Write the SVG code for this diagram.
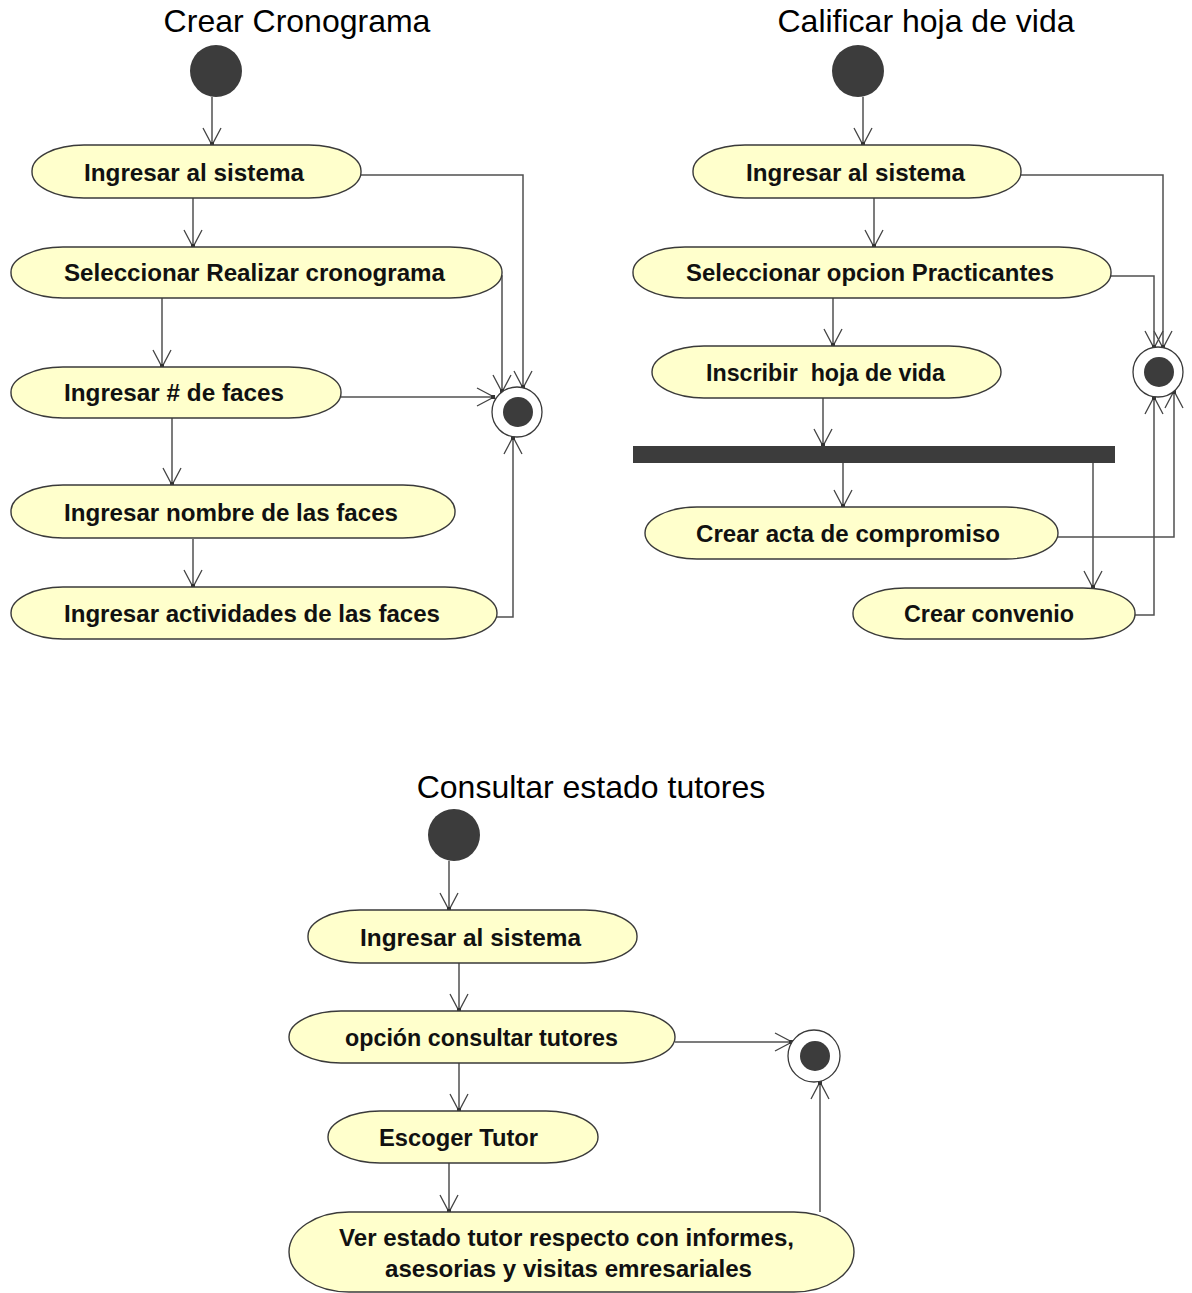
<svg xmlns="http://www.w3.org/2000/svg" width="1192" height="1293" viewBox="0 0 1192 1293">
  <style>
    .title { font-family: "Liberation Sans", Arial, sans-serif; font-size: 32px; fill: #000; text-anchor: middle; }
    .act { fill: #ffffcc; stroke: #3a3a3a; stroke-width: 1.4; }
    .lbl { font-family: "Liberation Sans", Arial, sans-serif; font-size: 24px; font-weight: bold; fill: #111; }
    .start { fill: #3c3c3c; }
    .endo { fill: #ffffff; stroke: #3a3a3a; stroke-width: 1.3; }
    .endi { fill: #3c3c3c; }
    .bar { fill: #3c3c3c; }
    .flow { fill: none; stroke: #505050; stroke-width: 1.5; marker-end: url(#arr); }
  </style>
  <defs>
    <marker id="arr" markerUnits="userSpaceOnUse" markerWidth="40" markerHeight="40" refX="0" refY="0" orient="auto" overflow="visible">
      <path d="M-17,-9 L0,0 L-17,9" fill="none" stroke="#444" stroke-width="1.3"/>
      <rect x="-3" y="-2" width="4" height="4" fill="#333"/>
    </marker>
  </defs>
  <rect width="1192" height="1293" fill="#ffffff"/>

  <!-- titles -->
  <text class="title" x="297" y="32">Crear Cronograma</text>
  <text class="title" x="926" y="32">Calificar hoja de vida</text>
  <text class="title" x="591" y="798">Consultar estado tutores</text>

  <!-- connectors -->
  <g id="connectors">
    <!-- Crear Cronograma -->
    <path class="flow" d="M212,97 V145"/>
    <path class="flow" d="M193,198 V247"/>
    <path class="flow" d="M162,298 V367"/>
    <path class="flow" d="M172,418 V485"/>
    <path class="flow" d="M193,539 V587"/>
    <path class="flow" d="M361,175 H523 V388"/>
    <path class="flow" d="M500,276 H502 V392"/>
    <path class="flow" d="M341,397 H494"/>
    <path class="flow" d="M497,617 H513 V437"/>
    <!-- Calificar hoja de vida -->
    <path class="flow" d="M863,97 V145"/>
    <path class="flow" d="M874,198 V247"/>
    <path class="flow" d="M833,298 V346"/>
    <path class="flow" d="M823,398 V446"/>
    <path class="flow" d="M843,463 V507"/>
    <path class="flow" d="M1093,463 V588"/>
    <path class="flow" d="M1021,175 H1163 V348"/>
    <path class="flow" d="M1111,276 H1154 V348"/>
    <path class="flow" d="M1058,537 H1174 V391"/>
    <path class="flow" d="M1135,615 H1154 V397"/>
    <!-- Consultar estado tutores -->
    <path class="flow" d="M449,861 V910"/>
    <path class="flow" d="M459,963 V1011"/>
    <path class="flow" d="M459,1063 V1111"/>
    <path class="flow" d="M449,1163 V1212"/>
    <path class="flow" d="M675,1042 H792"/>
    <path class="flow" d="M820,1212 V1082"/>
  </g>

  <!-- Crear Cronograma -->
  <g id="c-start"><circle class="start" cx="216" cy="71" r="26"/></g>
  <g id="c-ingresar">
    <rect class="act" x="32" y="145" width="329" height="53" rx="52" ry="26"/>
    <text class="lbl" x="84" y="181" textLength="220" lengthAdjust="spacingAndGlyphs">Ingresar al sistema</text>
  </g>
  <g id="c-seleccionar">
    <rect class="act" x="11" y="247" width="491" height="51" rx="52" ry="25"/>
    <text class="lbl" x="64" y="281" textLength="381" lengthAdjust="spacingAndGlyphs">Seleccionar Realizar cronograma</text>
  </g>
  <g id="c-numfaces">
    <rect class="act" x="11" y="367" width="330" height="51" rx="52" ry="25"/>
    <text class="lbl" x="64" y="401" textLength="220" lengthAdjust="spacingAndGlyphs">Ingresar # de faces</text>
  </g>
  <g id="c-nombre">
    <rect class="act" x="11" y="485" width="444" height="53" rx="52" ry="26"/>
    <text class="lbl" x="64" y="521" textLength="334" lengthAdjust="spacingAndGlyphs">Ingresar nombre de las faces</text>
  </g>
  <g id="c-actividades">
    <rect class="act" x="11" y="587" width="486" height="52" rx="52" ry="26"/>
    <text class="lbl" x="64" y="622" textLength="376" lengthAdjust="spacingAndGlyphs">Ingresar actividades de las faces</text>
  </g>
  <g id="c-end">
    <circle class="endo" cx="517" cy="412" r="25"/>
    <circle class="endi" cx="518" cy="412" r="15"/>
  </g>

  <!-- Calificar hoja de vida -->
  <g id="h-start"><circle class="start" cx="858" cy="71" r="26"/></g>
  <g id="h-ingresar">
    <rect class="act" x="693" y="145" width="328" height="53" rx="52" ry="26"/>
    <text class="lbl" x="746" y="181" textLength="219" lengthAdjust="spacingAndGlyphs">Ingresar al sistema</text>
  </g>
  <g id="h-seleccionar">
    <rect class="act" x="633" y="247" width="478" height="51" rx="52" ry="25"/>
    <text class="lbl" x="686" y="281" textLength="368" lengthAdjust="spacingAndGlyphs">Seleccionar opcion Practicantes</text>
  </g>
  <g id="h-inscribir">
    <rect class="act" x="652" y="346" width="349" height="52" rx="52" ry="26"/>
    <text class="lbl" x="706" y="381" textLength="239" lengthAdjust="spacingAndGlyphs" xml:space="preserve">Inscribir  hoja de vida</text>
  </g>
  <g id="h-fork"><rect class="bar" x="633" y="446" width="482" height="17"/></g>
  <g id="h-acta">
    <rect class="act" x="645" y="507" width="413" height="52" rx="52" ry="26"/>
    <text class="lbl" x="696" y="542" textLength="304" lengthAdjust="spacingAndGlyphs">Crear acta de compromiso</text>
  </g>
  <g id="h-convenio">
    <rect class="act" x="853" y="588" width="282" height="51" rx="52" ry="25"/>
    <text class="lbl" x="904" y="622" textLength="170" lengthAdjust="spacingAndGlyphs">Crear convenio</text>
  </g>
  <g id="h-end">
    <circle class="endo" cx="1158" cy="372" r="25"/>
    <circle class="endi" cx="1159" cy="372" r="15"/>
  </g>

  <!-- Consultar estado tutores -->
  <g id="t-start"><circle class="start" cx="454" cy="835" r="26"/></g>
  <g id="t-ingresar">
    <rect class="act" x="308" y="910" width="329" height="53" rx="52" ry="26"/>
    <text class="lbl" x="360" y="946" textLength="221" lengthAdjust="spacingAndGlyphs">Ingresar al sistema</text>
  </g>
  <g id="t-opcion">
    <rect class="act" x="289" y="1011" width="386" height="52" rx="52" ry="26"/>
    <text class="lbl" x="345" y="1046" textLength="273" lengthAdjust="spacingAndGlyphs">opción consultar tutores</text>
  </g>
  <g id="t-escoger">
    <rect class="act" x="328" y="1111" width="270" height="52" rx="52" ry="26"/>
    <text class="lbl" x="379" y="1146" textLength="159" lengthAdjust="spacingAndGlyphs">Escoger Tutor</text>
  </g>
  <g id="t-ver">
    <rect class="act" x="289" y="1212" width="565" height="80" rx="60" ry="40"/>
    <text class="lbl" x="339" y="1246" textLength="455" lengthAdjust="spacingAndGlyphs">Ver estado tutor respecto con informes,</text>
    <text class="lbl" x="385" y="1277" textLength="367" lengthAdjust="spacingAndGlyphs">asesorias y visitas emresariales</text>
  </g>
  <g id="t-end">
    <circle class="endo" cx="814" cy="1056" r="26"/>
    <circle class="endi" cx="815" cy="1056" r="15"/>
  </g>
</svg>
